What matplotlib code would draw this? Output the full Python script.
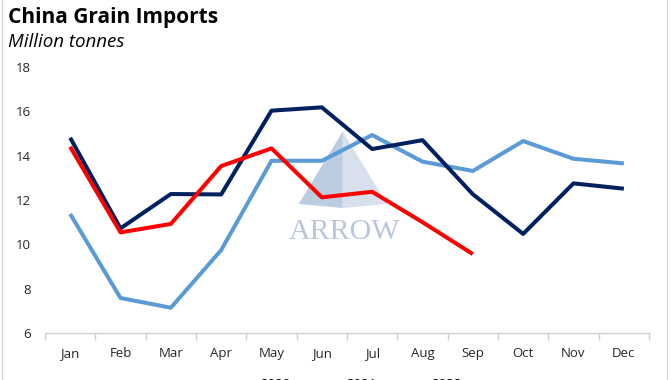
import matplotlib
matplotlib.use("Agg")
import matplotlib.pyplot as plt
from matplotlib.patches import Polygon
from matplotlib.lines import Line2D

months = ["Jan", "Feb", "Mar", "Apr", "May", "Jun", "Jul", "Aug", "Sep", "Oct", "Nov", "Dec"]
imports_2020 = [11.37, 7.58, 7.14, 9.74, 13.77, 13.77, 14.93, 13.73, 13.31, 14.66, 13.86, 13.65]
imports_2021 = [14.81, 10.72, 12.27, 12.25, 16.03, 16.18, 14.3, 14.7, 12.26, 10.47, 12.75, 12.51]
imports_2022 = [14.4, 10.54, 10.92, 13.53, 14.33, 12.12, 12.37, 11.0, 9.56]
years = ["2020", "2021", "2022"]
colors = ["#5B9BD5", "#002060", "#FF0000"]

plt.rcParams["font.family"] = ["Open Sans", "DejaVu Sans"]

fig = plt.figure(figsize=(6.7, 3.8), dpi=100)
ax = fig.add_axes([45 / 670, 1 - 333 / 380, 604 / 670, 266 / 380])

x = list(range(len(months)))
for vals, c, lab in zip([imports_2020, imports_2021, imports_2022], colors, years):
    ax.plot(x[:len(vals)], vals, color=c, lw=2.9, label=lab, zorder=3, solid_capstyle="butt")

# faint watermark
tri_l = Polygon([[0.493, 0.758], [0.42, 0.485], [0.493, 0.47]], closed=True,
                transform=ax.transAxes, facecolor="#BCCCE1", edgecolor="none", zorder=1)
tri_r = Polygon([[0.493, 0.758], [0.493, 0.47], [0.566, 0.485]], closed=True,
                transform=ax.transAxes, facecolor="#D8E0EE", edgecolor="none", zorder=1)
ax.add_patch(tri_l)
ax.add_patch(tri_r)
ax.text(0.496, 0.38, "ARROW", transform=ax.transAxes, ha="center", va="center",
        fontsize=21.5, color="#BAC6DA", family="Liberation Serif", zorder=1)

ax.set_xlim(-0.5, 11.5)
ax.set_ylim(6, 18)
ax.set_yticks(range(6, 19, 2))
ax.set_xticks(x)
ax.set_xticklabels(months)
ax.set_xticks([i - 0.5 for i in range(13)], minor=True)
ax.tick_params(axis="x", which="major", length=0, pad=10, labelsize=9.5, labelcolor="#262626")
ax.tick_params(axis="x", which="minor", length=5, color="#D0D0D0", width=1)
ax.tick_params(axis="y", length=0, pad=10, labelsize=9.5, labelcolor="#262626")
for s in ["top", "right", "left"]:
    ax.spines[s].set_visible(False)
ax.spines["bottom"].set_color("#D0D0D0")
ax.spines["bottom"].set_linewidth(1)

fig.text(8 / 670, 1 - 18 / 380, "China Grain Imports", fontsize=15, fontweight="bold",
         ha="left", va="center", color="#000000")
fig.text(8 / 670, 1 - 42 / 380, "Million tonnes", fontsize=13.5, style="italic",
         ha="left", va="center", color="#000000")

fig.legend(loc="center", bbox_to_anchor=(344 / 670, 1 - 384 / 380), ncol=3, frameon=False,
           fontsize=9.5, handlelength=2.0, columnspacing=1.6, handletextpad=0.6)

fig.add_artist(Line2D([2 / 670, 2 / 670], [0, 1], color="#D9D9D9", lw=1))
fig.add_artist(Line2D([667 / 670, 667 / 670], [0, 1], color="#D9D9D9", lw=1))

fig.savefig("out.png", dpi=100)
